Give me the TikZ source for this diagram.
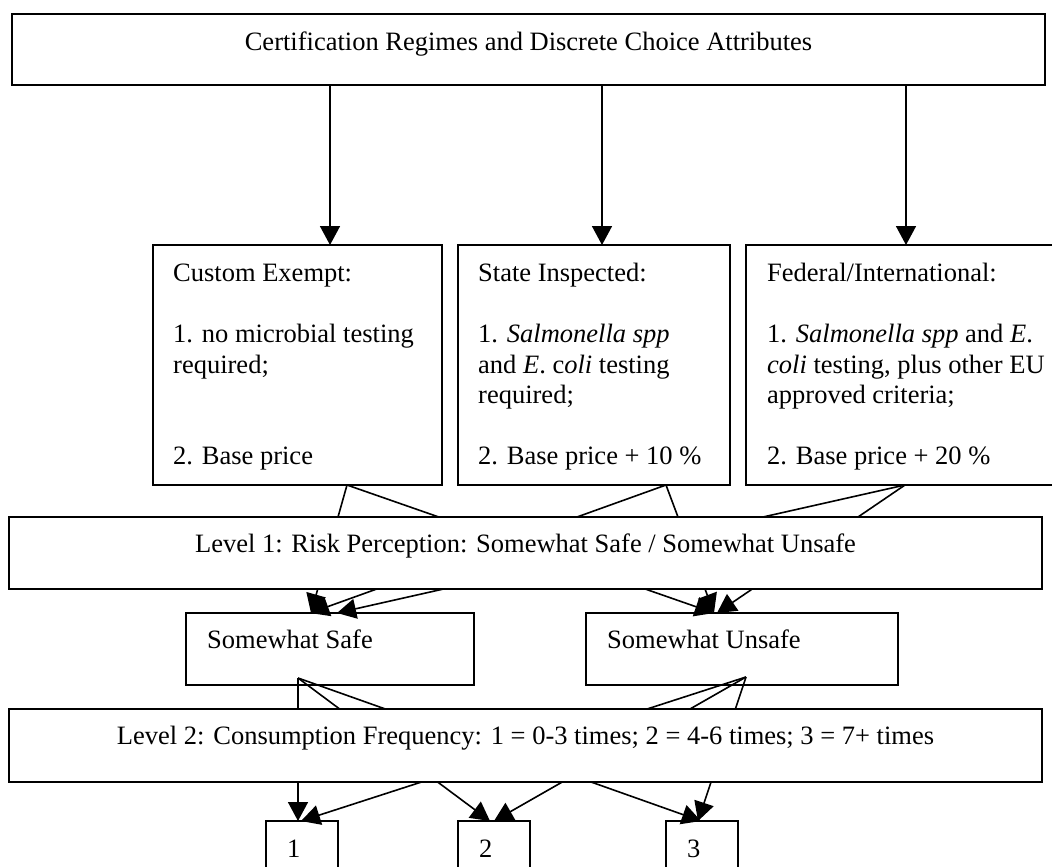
\documentclass[tikz,border=0pt]{standalone}
\usepackage{fontspec}
\setmainfont{Liberation Serif}
\usetikzlibrary{arrows.meta,calc}
\pgfdeclarelayer{bg}
\pgfsetlayers{bg,main}
\newcommand{\boxfont}{\fontsize{26.5}{30.5}\selectfont}
\begin{document}
\begin{tikzpicture}[x=1pt,y=-1pt,
  box/.style={draw, line width=1.6pt, anchor=north west, inner sep=0pt, outer sep=0pt},
  lvl/.style={box, fill=white},
  txt/.style={inner sep=0pt, font=\boxfont, align=left, anchor=north west},
  ctxt/.style={inner sep=0pt, font=\boxfont, anchor=north},
  conn/.style={line width=1.6pt},
  arr/.style={conn, -{Triangle[length=19pt,width=20pt]}}]
\useasboundingbox (0,0) rectangle (1052,867);

% boxes
\node[box, minimum width=1033pt, minimum height=71pt] (title) at (12,14) {};
\node[ctxt] (titletxt) at ($(title.north)+(0,14.5)$) {\strut Certification Regimes and Discrete Choice Attributes};

\node[box, minimum width=289pt, minimum height=240pt] (ce) at (153,245) {};
\node[txt] (cetxt) at ($(ce.north west)+(20,15)$) {\strut Custom Exempt:\\ \strut\\ \strut 1. no microbial testing\\ \strut required;\\ \strut\\ \strut\\ \strut 2. Base price};

\node[box, minimum width=272pt, minimum height=240pt] (si) at (458,245) {};
\node[txt] (sitxt) at ($(si.north west)+(20,15)$) {\strut State Inspected:\\ \strut\\ \strut 1. \textit{Salmonella spp}\\ \strut and \textit{E}. c\textit{oli} testing\\ \strut required;\\ \strut\\ \strut 2. Base price + 10 \%};

\node[box, minimum width=314pt, minimum height=240pt] (fi) at (746,245) {};
\node[txt] (fitxt) at ($(fi.north west)+(21,15)$) {\strut Federal/International:\\ \strut\\ \strut 1. \textit{Salmonella spp} and \textit{E}.\\ \strut \textit{coli} testing, plus other EU\\ \strut approved criteria;\\ \strut\\ \strut 2. Base price + 20 \%};

\node[lvl, minimum width=1033pt, minimum height=72pt] (lv1) at (9,517) {};
\node[ctxt] (lv1txt) at ($(lv1.north)+(0,13.5)$) {\strut Level 1: Risk Perception: Somewhat Safe / Somewhat Unsafe};

\node[box, minimum width=288pt, minimum height=72pt] (safe) at (186,613) {};
\node[txt] (safetxt) at ($(safe.north west)+(21,14)$) {\strut Somewhat Safe};

\node[box, minimum width=312pt, minimum height=72pt] (unsafe) at (586,613) {};
\node[txt] (unsafetxt) at ($(unsafe.north west)+(21,14)$) {\strut Somewhat Unsafe};

\node[lvl, minimum width=1033pt, minimum height=73pt] (lv2) at (9,709) {};
\node[ctxt] (lv2txt) at ($(lv2.north)+(0,13.5)$) {\strut Level 2: Consumption Frequency: 1 = 0-3 times; 2 = 4-6 times; 3 = 7+ times};

\node[box, minimum width=72pt, minimum height=80pt] (n1) at (266,821) {};
\node[txt] (n1txt) at ($(n1.north west)+(21,14.5)$) {\strut 1};
\node[box, minimum width=72pt, minimum height=80pt] (n2) at (458,821) {};
\node[txt] (n2txt) at ($(n2.north west)+(21,14.5)$) {\strut 2};
\node[box, minimum width=72pt, minimum height=80pt] (n3) at (666,821) {};
\node[txt] (n3txt) at ($(n3.north west)+(21,14.5)$) {\strut 3};

% connectors
\begin{pgfonlayer}{bg}
\draw[arr] ($(title.south west)+(318,0)$) -- ($(ce.north west)+(177,0)$);
\draw[arr] ($(title.south west)+(590,0)$) -- ($(si.north west)+(144,0)$);
\draw[arr] ($(title.south west)+(894,0)$) -- ($(fi.north west)+(160,0)$);

\draw[arr] ($(ce.south west)+(194,0)$) -- ($(safe.north west)+(125,0)$);
\draw[arr] ($(ce.south west)+(194,0)$) -- ($(unsafe.north west)+(128,0)$);
\draw[arr] ($(si.south west)+(208,0)$) -- ($(safe.north west)+(124,0)$);
\draw[arr] ($(si.south west)+(208,0)$) -- ($(unsafe.north west)+(128,0)$);
\draw[arr] ($(fi.south west)+(159,0)$) -- ($(safe.north west)+(151,0)$);
\draw[arr] ($(fi.south west)+(159,0)$) -- ($(unsafe.north west)+(131,0)$);

\draw[arr] ($(safe.south west)+(112,-7)$) -- ($(n1.north west)+(32,0)$);
\draw[arr] ($(safe.south west)+(112,-7)$) -- ($(n2.north west)+(32,0)$);
\draw[arr] ($(safe.south west)+(112,-7)$) -- ($(n3.north west)+(35,0)$);
\draw[arr] ($(unsafe.south west)+(160,-8)$) -- ($(n1.north west)+(35,0)$);
\draw[arr] ($(unsafe.south west)+(160,-8)$) -- ($(n2.north west)+(36,0)$);
\draw[arr] ($(unsafe.south west)+(160,-8)$) -- ($(n3.north west)+(32,0)$);
\end{pgfonlayer}
\end{tikzpicture}
\end{document}
